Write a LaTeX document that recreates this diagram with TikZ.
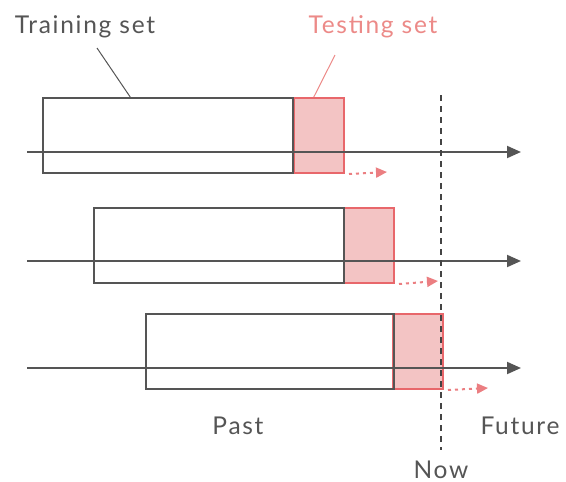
\documentclass[tikz,border=0pt]{standalone}
\usepackage{fontspec}
\setmainfont{Lato}[LetterSpace=7]
\usetikzlibrary{arrows.meta,calc}
\definecolor{axisgrey}{HTML}{555555}
\definecolor{testred}{HTML}{E8676B}
\definecolor{testfill}{HTML}{F3C4C4}
\definecolor{labelred}{HTML}{EC8A88}
\begin{document}
\begin{tikzpicture}[x=1pt,y=-1pt,
  trainbox/.style={draw=axisgrey, line width=2pt, inner sep=0pt, anchor=north west,
    minimum width=250pt, minimum height=75pt},
  testbox/.style={draw=testred, fill=testfill, line width=2pt, inner sep=0pt, anchor=north west,
    minimum width=50pt, minimum height=75pt},
  timeaxis/.style={draw=axisgrey, line width=2pt, -{Triangle[length=14pt,width=12pt]}},
  shiftarrow/.style={draw=testred!85, line width=2pt, dash pattern=on 3pt off 4pt,
    -{Triangle[length=11pt,width=10pt]}},
  leader/.style={draw=#1, line width=1pt},
  txt/.style={font=\fontsize{24.5}{28}\selectfont, text=axisgrey, inner sep=0pt}
]
\useasboundingbox (0,0) rectangle (566,482);

% test windows (drawn first so the training box edge lies on top)
\node[testbox] (te1) at (293,97) {};
\node[testbox] (te2) at (343,207) {};
\node[testbox] (te3) at (392,313) {};

% training windows
\node[trainbox] (tr1) at (42,97) {};
\node[trainbox] (tr2) at (93,207) {};
\node[trainbox, minimum width=248pt] (tr3) at (145,313) {};

% time axes
\coordinate (a1s) at (27,152); \coordinate (a1e) at (521,152);
\coordinate (a2s) at (27,261); \coordinate (a2e) at (521,261);
\coordinate (a3s) at (27,368); \coordinate (a3e) at (521,368);
\draw[timeaxis] (a1s) -- (a1e);
\draw[timeaxis] (a2s) -- (a2e);
\draw[timeaxis] (a3s) -- (a3e);

% forward shift of each test window
\coordinate (s1) at (387,172);
\coordinate (s2) at (438,281);
\coordinate (s3) at (488,388);
\draw[shiftarrow] ([xshift=4pt]te1.south east) -- (s1);
\draw[shiftarrow] ([xshift=4pt]te2.south east) -- (s2);
\draw[shiftarrow] ([xshift=4pt]te3.south east) -- (s3);

% present time marker
\coordinate (nowtop) at (441,95);
\coordinate (nowbot) at (441,450);
\draw[axisgrey!80!black, line width=2pt, dash pattern=on 6pt off 5pt] (nowtop) -- (nowbot);

% labels
\node[txt, anchor=base] (trlbl) at (85,33) {Training set};
\node[txt, anchor=base, text=labelred] (telbl) at (373,33) {Testing set};
\node[txt, anchor=base] (past) at (238,434) {Past};
\node[txt, anchor=base] (future) at (520,434) {Future};
\node[txt, anchor=base] (now) at (441,478) {Now};

% leader lines
\coordinate (trl) at (97,48);
\coordinate (tel) at (335,55);
\draw[leader=axisgrey] (trl) -- ($(tr1.north west)!0.35!(tr1.north east)$);
\draw[leader=labelred] (tel) -- ($(te1.north west)!0.4!(te1.north east)$);
\end{tikzpicture}
\end{document}
